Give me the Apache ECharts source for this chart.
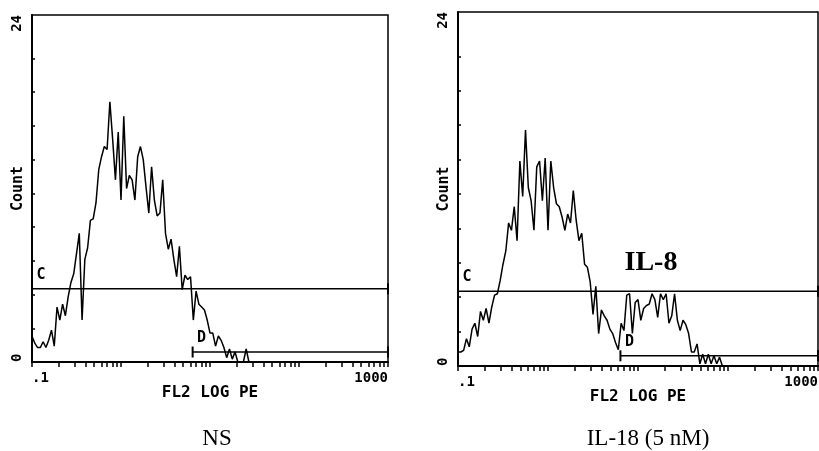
<!DOCTYPE html>
<html><head><meta charset="utf-8">
<script src="https://cdn.jsdelivr.net/npm/echarts@6/dist/echarts.min.js"></script>
<style>html,body{margin:0;padding:0;background:#fff}#c{width:819px;height:451px}</style>
</head><body><div id="c"></div>
<script>
// Histograms: counts read every 2 channels of a 256-channel, 4-decade log scale (channel 0 = 0.1)
const channelStep = 2;
const channelsPerDecade = 64;
const nsCounts = [1.8,1.3,1.0,1.0,1.4,1.0,1.5,2.2,1.1,3.8,2.9,4.0,3.2,4.5,5.5,6.1,7.5,8.9,2.9,7.1,
  7.9,9.8,9.9,11.0,13.3,14.2,14.9,14.7,18.0,15.4,12.6,15.9,11.2,17.0,12.0,12.9,12.6,11.2,14.2,14.9,
  14.0,12.1,10.3,13.5,11.2,10.1,10.3,12.6,8.9,7.8,8.5,7.1,5.9,8.0,5.0,6.0,5.7,5.9,2.9,4.9,
  4.0,3.8,3.6,2.9,2.0,2.0,1.1,1.8,1.5,1.0,0.3,0.9,0.2,0.7,0,0,0,0.9,0,0];
const il18Counts = [0.95,0.95,1.06,1.85,1.3,2.5,2.9,2.0,3.7,3.1,3.9,2.9,4.0,4.8,4.9,5.8,6.9,7.8,9.7,9.2,
  10.8,8.5,13.9,11.5,16.0,12.1,11.2,9.2,13.5,13.9,11.2,14.1,9.2,13.9,12.1,11.0,10.8,10.1,9.2,10.3,
  9.7,11.9,9.9,8.5,9.0,6.9,6.7,5.7,3.5,5.4,2.2,3.8,3.4,3.1,2.5,2.2,1.6,1.1,2.9,2.4,
  4.8,4.9,2.2,4.3,4.5,3.1,3.9,4.1,4.2,4.9,4.5,3.3,4.9,4.5,4.9,2.9,3.4,4.9,3.1,2.4,
  3.1,2.8,2.2,0.95,0.95,1.5,0.15,0.8,0.15,0.8,0.15,0.7,0.15,0.6,0,0];
// Axis ticks and labels
const xTickValues = [0.1,0.2,0.3,0.4,0.5,0.6,0.7,0.8,0.9,1,2,3,4,5,6,7,8,9,10,20,30,40,50,60,70,80,90,
  100,200,300,400,500,600,700,800,900,1000];
const xLabelValues = [0.1, 1000];
const xLabelTexts = ['.1', '1000'];
const yTickValues = [2.33,4.67,7,9.33,11.67,14,16.33,18.67,21];
const yLabelValues = [0, 24];
const xName = 'FL2 LOG PE';
const yName = 'Count';
// Gates
const gateNames = ['C', 'D'];
const gateFrom = [0.1, 6.38];
const gateTo = [1000, 1000];
const gateLevel = [5.07, 0.69];
// Captions
const panelCaptions = ['NS', 'IL-18 (5 nM)'];
const annotationText = 'IL-8';

const toChannel = v => channelsPerDecade * (Math.log10(v) - Math.log10(0.1));
const mono = '"DejaVu Sans Mono", monospace';
const panels = [
  {counts: nsCounts, grid: {left: 32, top: 15, width: 356, height: 347}, cap: [217, 439]},
  {counts: il18Counts, grid: {left: 458, top: 12, width: 360, height: 354}, cap: [648, 439]}
];
const labelPos = [[10, -8.5], [10, -8.5]];

const chart = echarts.init(document.getElementById('c'), null, {renderer: 'canvas'});
const grids = [], xAxes = [], yAxes = [], series = [];
panels.forEach((p, k) => {
  grids.push(Object.assign({show: true, borderColor: '#000', borderWidth: 1.5, containLabel: false,
    outerBoundsMode: 'none'}, p.grid));
  xAxes.push({
    type: 'value', gridIndex: k, min: 0, max: toChannel(1000),
    axisLine: {show: true, onZero: false, lineStyle: {color: '#000', width: 2}},
    axisTick: {show: true, customValues: xTickValues.map(toChannel), length: 5, inside: false,
      lineStyle: {color: '#000', width: 1.5}},
    axisLabel: {show: true, customValues: xLabelValues.map(toChannel),
      formatter: v => xLabelTexts[xLabelValues.map(toChannel).findIndex(c => Math.abs(c - v) < 1e-6)] || '',
      alignMinLabel: 'left', alignMaxLabel: 'right', margin: 9, color: '#000',
      fontFamily: mono, fontWeight: 'bold', fontSize: 14},
    splitLine: {show: false},
    name: xName, nameLocation: 'middle', nameGap: 23, nameMoveOverlap: false,
    nameTextStyle: {color: '#000', fontFamily: mono, fontWeight: 'bold', fontSize: 16}
  });
  yAxes.push({
    type: 'value', gridIndex: k, min: 0, max: 24,
    axisLine: {show: true, lineStyle: {color: '#000', width: 2}},
    axisTick: {show: true, customValues: yTickValues, inside: true, length: 3, lineStyle: {color: '#000', width: 1.5}},
    axisLabel: {show: true, customValues: yLabelValues, rotate: 90, alignMinLabel: 'left', alignMaxLabel: 'right',
      verticalAlign: 'middle', margin: 15, color: '#000', fontFamily: mono, fontWeight: 'bold', fontSize: 14},
    splitLine: {show: false},
    name: yName, nameLocation: 'middle', nameRotate: 90, nameGap: 6, nameMoveOverlap: false,
    nameTextStyle: {color: '#000', fontFamily: mono, fontWeight: 'bold', fontSize: 15}
  });
  series.push({
    type: 'line', xAxisIndex: k, yAxisIndex: k, symbol: 'none', silent: true,
    lineStyle: {color: '#000', width: 1.5},
    data: p.counts.map((c, i) => [i * channelStep, c])
  });
  gateNames.forEach((g, j) => {
    series.push({
      type: 'line', xAxisIndex: k, yAxisIndex: k, symbol: 'rect', symbolSize: [2, 11], showSymbol: true,
      clip: false, silent: true,
      lineStyle: {color: '#000', width: 1.5}, itemStyle: {color: '#000'},
      data: [
        {value: [toChannel(gateFrom[j]), gateLevel[j]],
         label: {show: true, formatter: g, position: labelPos[j], align: 'center', verticalAlign: 'middle',
           color: '#000', fontFamily: mono, fontWeight: 'bold', fontSize: 15}},
        {value: [toChannel(gateTo[j]), gateLevel[j]]}
      ]
    });
  });
});

const graphics = panels.map((p, k) => ({
  type: 'text', x: p.cap[0], y: p.cap[1],
  style: {text: panelCaptions[k], align: 'center', verticalAlign: 'middle', fill: '#000',
    font: '23px "Liberation Serif", "Times New Roman", serif'}
}));
graphics.push({
  type: 'text', x: 651, y: 263,
  style: {text: annotationText, align: 'center', verticalAlign: 'middle', fill: '#000',
    font: 'bold 28px "Liberation Serif", "Times New Roman", serif'}
});

chart.setOption({
  animation: false,
  backgroundColor: '#fff',
  grid: grids, xAxis: xAxes, yAxis: yAxes, series: series, graphic: graphics
});
</script></body></html>
